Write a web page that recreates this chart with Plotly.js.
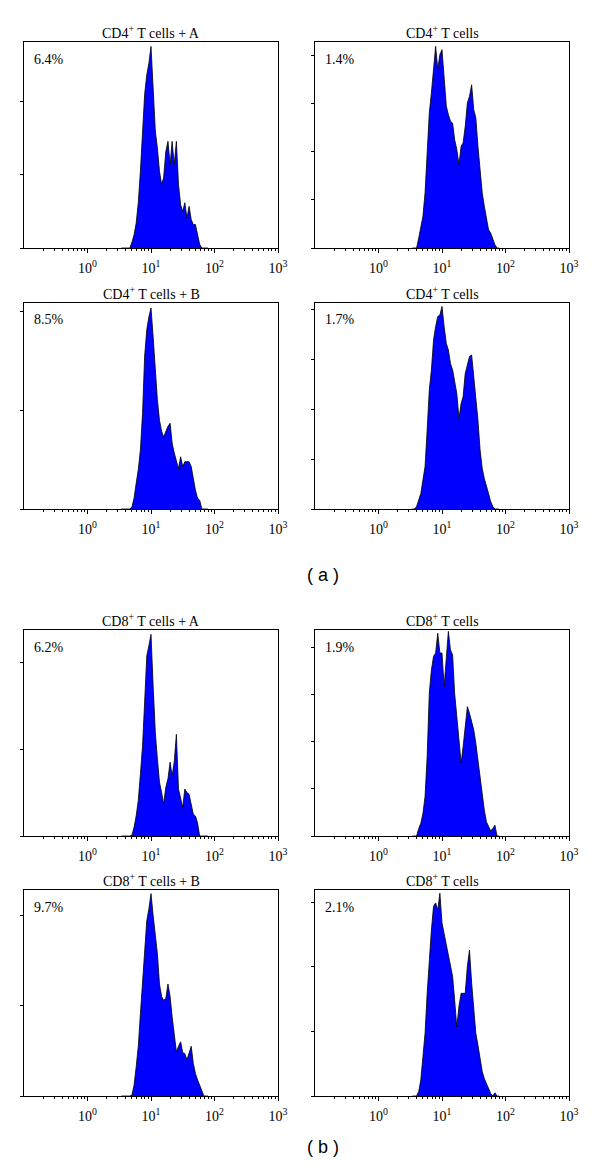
<!DOCTYPE html>
<html>
<head>
<meta charset="utf-8">
<script src="https://cdn.plot.ly/plotly-3.0.1.min.js"></script>
<style>html,body{margin:0;padding:0;background:#fff;}#chart{width:600px;height:1175px;}</style>
</head>
<body>
<div id="chart"></div>
<script>
// Fluorescence channel (log scale)
const channels = [3.41,3.68,3.98,4.30,4.64,5.01,5.41,5.84,6.31,6.81,7.36,7.94,8.58,9.26,10.0,10.8,11.7,12.6,13.6,14.7,15.8,17.1,18.5,20.0,21.5,23.2,25.1,27.1,29.3,31.6,34.1,36.8,39.8,43.0,46.4,50.1,54.1,58.4,63.1,68.1,73.6,79.4];

// Cell counts per channel (relative units, one y tick = 10)
const cd4PlusA   = [0,0,0,0,0,0.8,1.8,3.4,6.2,10.5,15.1,21.0,23.7,25.3,27.6,21.9,16.0,13.7,10.5,8.7,9.6,13.2,14.6,11.4,14.6,11.4,14.6,8.7,5.9,5.0,6.2,4.1,5.7,3.9,3.2,3.2,1.8,0.5,0,0,0,0];
const cd4CtrlA   = [0,0,0,2.1,4.5,6.6,11.5,19.8,28.1,32.3,37.2,42.0,37.2,40.3,41.3,34.4,29.5,27.8,26.4,26.0,22.6,20.5,17.4,21.2,21.9,25.3,30.2,31.6,34.0,28.8,27.1,21.2,16.3,11.5,8.7,5.9,3.8,3.1,1.7,0.7,0,0];
const cd4PlusB   = [0,0,0,0,0,0.2,1.1,2.6,4.0,6.0,9.7,15.5,18.2,19.5,20.4,17.5,14.1,11.1,9.0,7.9,7.3,7.9,8.4,8.7,6.7,5.7,4.8,4.1,5.3,4.3,4.8,4.8,4.8,4.3,2.9,1.9,1.1,0.9,0,0,0,0];
const cd4CtrlB   = [0,0,0.5,1.8,3.1,5.8,8.5,15.8,23.8,27.8,33.8,36.5,38.5,38.8,40.5,36.5,33.1,31.8,29.1,27.8,25.8,23.1,18.1,21.1,22.5,27.1,28.8,30.5,30.8,26.5,23.1,17.8,11.8,8.1,6.1,4.8,3.1,1.5,0.5,0,0,0];
const cd8PlusA   = [0,0,0,0,0,0.1,1.0,2.3,4.1,7.1,10.4,15.4,20.7,21.9,23.2,17.3,11.9,8.9,6.2,5.0,3.7,5.6,6.6,8.5,6.9,8.5,11.7,5.4,4.3,3.3,5.4,5.0,4.8,3.5,2.5,2.3,1.5,0,0,0,0,0];
const cd8CtrlA   = [0,0,0,1.6,2.7,4.8,8.4,16.9,30.4,35.3,38.2,38.9,43.1,38.9,38.9,31.8,38.9,43.5,39.6,38.5,30.4,25.4,19.7,15.5,19.0,23.3,27.5,26.1,24.0,22.6,19.7,16.2,12.6,8.4,5.5,3.0,2.0,1.1,1.6,2.3,0,0];
const cd8PlusB   = [0,0,0,0,0,0.1,1.2,3.2,5.5,9.1,12.4,16.5,19.4,20.7,22.4,20.0,17.4,15.8,12.4,11.0,10.6,10.8,12.4,11.0,8.8,6.9,4.9,5.5,6.0,4.8,4.7,4.0,4.7,5.5,3.6,2.5,1.8,1.2,0.7,0,0,0];
const cd8CtrlB   = [0,0,0,0.7,2.5,6.1,9.7,15.9,21.1,25.7,29.4,29.9,28.8,31.4,26.8,25.2,23.4,22.1,20.1,18.5,14.9,10.7,13.9,15.9,15.9,15.9,20.1,22.6,17.5,13.3,9.7,7.9,5.6,3.8,2.7,2.0,1.2,0.4,0,0.5,0,0];

// Titles and percentages
const panelTitles = ['CD4<sup>+</sup> T cells + A','CD4<sup>+</sup> T cells','CD4<sup>+</sup> T cells + B','CD4<sup>+</sup> T cells',
                     'CD8<sup>+</sup> T cells + A','CD8<sup>+</sup> T cells','CD8<sup>+</sup> T cells + B','CD8<sup>+</sup> T cells'];
const panelPercents = ['6.4%','1.4%','8.5%','1.7%','6.2%','1.9%','9.7%','2.1%'];
const panelSeries = [cd4PlusA, cd4CtrlA, cd4PlusB, cd4CtrlB, cd8PlusA, cd8CtrlA, cd8PlusB, cd8CtrlB];
const groupLabels = ['( a )','( b )'];

// Axis ticks
const xTickVals = [1, 10, 100, 1000];
const xTickText = ['10<sup>0</sup>','10<sup>1</sup>','10<sup>2</sup>','10<sup>3</sup>'];

// Layout (pixels)
const W = 600, H = 1175;
const yMaxes = [28.2, 42.9, 20.9, 41.2, 23.7, 43.8, 22.8, 31.9];
const colX = [[24, 278], [315, 569]];
const rowY = [[42, 248], [303, 509], [630, 836], [890, 1096]];
const serif = 'Liberation Serif, Times New Roman, serif';

const minorVals = [];
[0.1, 1, 10, 100].forEach(d => { for (let m = 2; m <= 9; m++) minorVals.push(m * d); });

const data = [];
const layout = {
  width: W, height: H,
  margin: {l: 0, r: 0, t: 0, b: 0},
  paper_bgcolor: '#fff', plot_bgcolor: '#fff',
  showlegend: false, hovermode: false,
  annotations: []
};

panelSeries.forEach((ys, i) => {
  const s = i === 0 ? '' : String(i + 1);
  const col = i % 2, row = Math.floor(i / 2);
  const [x0, x1] = colX[col];
  const [y0, y1] = rowY[row];
  data.push({
    type: 'scatter', mode: 'lines', x: channels, y: ys,
    xaxis: 'x' + s, yaxis: 'y' + s,
    line: {color: '#000', width: 0.8, shape: 'linear'},
    fill: 'tozeroy', fillcolor: '#0000ff'
  });
  layout['xaxis' + s] = {
    domain: [x0 / W, x1 / W], anchor: 'y' + s,
    type: 'log', range: [-1, 3],
    tickmode: 'array', tickvals: xTickVals, ticktext: xTickText,
    ticks: 'outside', ticklen: 4, tickwidth: 1, tickcolor: '#000',
    ticklabelstandoff: 3,
    minor: {tickmode: 'array', tickvals: minorVals, ticks: 'outside', ticklen: 2, tickwidth: 1, tickcolor: '#000', showgrid: false},
    showline: true, mirror: true, linecolor: '#000', linewidth: 1,
    showgrid: false, zeroline: false,
    tickfont: {family: serif, size: 14, color: '#000'}
  };
  layout['yaxis' + s] = {
    domain: [(H - y1) / H, (H - y0) / H], anchor: 'x' + s,
    range: [0, yMaxes[i]], tickmode: 'linear', tick0: 0, dtick: 10,
    ticks: 'outside', ticklen: 3, tickwidth: 1, tickcolor: '#000',
    showticklabels: false,
    showline: true, mirror: true, linecolor: '#000', linewidth: 1,
    showgrid: false, zeroline: false
  };
  layout.annotations.push({
    text: panelTitles[i], xref: 'paper', yref: 'paper',
    x: (x0 + x1) / 2 / W, y: (H - (y0 - 10)) / H,
    xanchor: 'center', yanchor: 'middle', showarrow: false,
    font: {family: serif, size: 14, color: '#000'}
  });
  layout.annotations.push({
    text: panelPercents[i], xref: 'paper', yref: 'paper',
    x: (x0 + 8) / W, y: (H - (y0 + 17)) / H,
    xanchor: 'left', yanchor: 'middle', showarrow: false,
    font: {family: serif, size: 14, color: '#000'}
  });
});

[575, 1147].forEach((py, j) => {
  layout.annotations.push({
    text: groupLabels[j], xref: 'paper', yref: 'paper',
    x: 323 / W, y: (H - py) / H, xanchor: 'center', yanchor: 'middle',
    showarrow: false, font: {family: 'Liberation Sans, Arial, sans-serif', size: 18, color: '#000'}
  });
});

Plotly.newPlot('chart', data, layout, {staticPlot: true, displayModeBar: false});
</script>
</body>
</html>
